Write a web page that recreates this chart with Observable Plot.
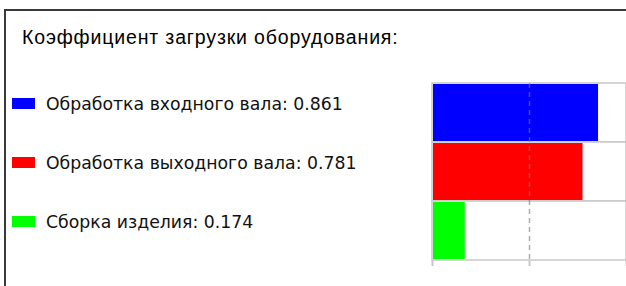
<!DOCTYPE html>
<html>
<head>
<meta charset="utf-8">
<script src="https://cdn.jsdelivr.net/npm/d3@7"></script>
<script src="https://cdn.jsdelivr.net/npm/@observablehq/plot@0.6"></script>
<style>
  html, body { margin: 0; padding: 0; background: #fff; }
  #wrap { position: relative; width: 626px; height: 286px; overflow: hidden; background: #fff; }
  #frame { position: absolute; left: 4px; top: 9px; right: -10px; bottom: -10px;
           border-top: 2px solid #3a3a3a; border-left: 2px solid #3a3a3a; }
  #title { position: absolute; left: 22px; top: 26px; font: 19.5px "Liberation Sans", Arial, sans-serif; letter-spacing: 0.85px; color: #000; line-height: 22px; white-space: nowrap; }
  #legend { position: absolute; left: 12px; top: 74px; font: 17.3px "DejaVu Sans", Verdana, sans-serif; color: #111; }
  .row { height: 59px; display: flex; align-items: center; white-space: nowrap; }
  .sw { width: 23px; height: 11px; margin-right: 11px; flex: none; }
  #chart { position: absolute; left: 0; top: 0; }
  #chart svg { background: transparent; }
</style>
</head>
<body>
<div id="wrap">
  <div id="frame"></div>
  <div id="title"></div>
  <div id="legend"></div>
  <div id="chart"></div>
</div>
<script>
const titleText = "Коэффициент загрузки оборудования:";
const categories = ["Обработка входного вала", "Обработка выходного вала", "Сборка изделия"];
const values = [0.861, 0.781, 0.174];
const colors = ["#0000ff", "#ff0000", "#00ff00"];
const xTicks = [0, 0.5, 1];

const data = categories.map((name, i) => ({name, value: values[i], color: colors[i]}));

document.getElementById("title").textContent = titleText;

const legend = document.getElementById("legend");
data.forEach(d => {
  const row = document.createElement("div");
  row.className = "row";
  const sw = document.createElement("span");
  sw.className = "sw";
  sw.style.background = d.color;
  const t = document.createElement("span");
  t.textContent = `${d.name}: ${d.value}`;
  row.appendChild(sw);
  row.appendChild(t);
  legend.appendChild(row);
});

const chart = Plot.plot({
  width: 626,
  height: 286,
  marginLeft: 432,
  marginRight: 0,
  marginTop: 83,
  marginBottom: 26,
  style: {background: "transparent"},
  x: {domain: [0, 1], axis: null},
  y: {domain: categories, padding: 0, axis: null},
  color: {type: "identity"},
  marks: [
    Plot.cell(data, {y: "name", fill: "white", stroke: "#c8c8c8", strokeWidth: 1.5}),
    Plot.barX(data, {x: "value", y: "name", fill: "color", inset: 1}),
    Plot.ruleX([0.5], {stroke: "#777", strokeOpacity: 0.6, strokeWidth: 1.5, strokeDasharray: "5,4"}),
    Plot.axisX({ticks: xTicks, tickFormat: () => "", label: null, tickSize: 6, stroke: "#c8c8c8", strokeWidth: 2})
  ]
});
document.getElementById("chart").appendChild(chart);
</script>
</body>
</html>
